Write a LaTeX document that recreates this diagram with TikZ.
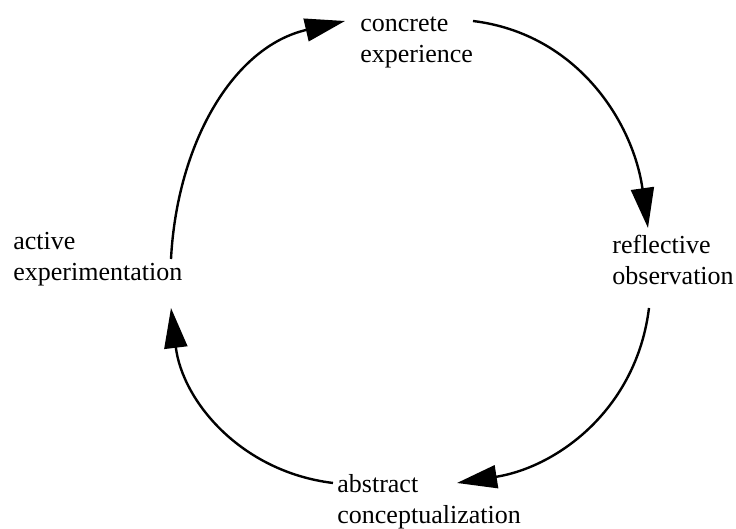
\documentclass[tikz,border=0pt]{standalone}
\usepackage{fontspec}
\setmainfont{Liberation Serif}
\usepackage{xcolor}
\definecolor{cycleInk}{HTML}{000000}
\usepackage{tikz}
\usetikzlibrary{arrows.meta,positioning,calc}
\tikzset{
    stage/.style={
        align=left,
        inner sep=0pt,
        anchor=base west,
        font=\fontsize{13}{15.5}\selectfont,
        text=cycleInk
    },
    cyclearrow/.style={
        -{Triangle[length=20pt,width=11.5pt]},
        line width=1.2pt,
        color=cycleInk
    }
}

\begin{document}
\begin{tikzpicture}[x=0.5pt,y=0.5pt]
    \useasboundingbox (0,0) rectangle (736,529);
    % The four stages (base = baseline of the second line)
    \node[stage] (concrete) at (360,466) {concrete\\experience};
    \node[stage] (reflective) at (612,244) {reflective\\observation};
    \node[stage] (abstract) at (337,5) {abstract\\conceptualization};
    \node[stage] (active) at (13,248) {active\\experimentation};

    % Arrow ends next to the stages
    \coordinate (concrete-in) at ([shift={(-15,42)}]concrete.base west);
    \coordinate (concrete-out) at ([shift={(113,42)}]concrete.base west);
    \coordinate (reflective-in) at ([shift={(36,57)}]reflective.base west);
    \coordinate (reflective-out) at ([shift={(37,-23)}]reflective.base west);
    \coordinate (abstract-in) at ([shift={(120,41)}]abstract.base west);
    \coordinate (abstract-out) at ([shift={(-4,41)}]abstract.base west);
    \coordinate (active-in) at ([shift={(158,-27)}]active.base west);
    \coordinate (active-out) at ([shift={(158,22)}]active.base west);

    % Cycle arrows
    \draw[cyclearrow] (active-out) to[out=87,in=193] (concrete-in);
    \draw[cyclearrow] (concrete-out) to[out=-7,in=98] (reflective-in);
    \draw[cyclearrow] (reflective-out) to[out=-97,in=9] (abstract-in);
    \draw[cyclearrow] (abstract-out) to[out=173,in=277] (active-in);
\end{tikzpicture}
\end{document}
